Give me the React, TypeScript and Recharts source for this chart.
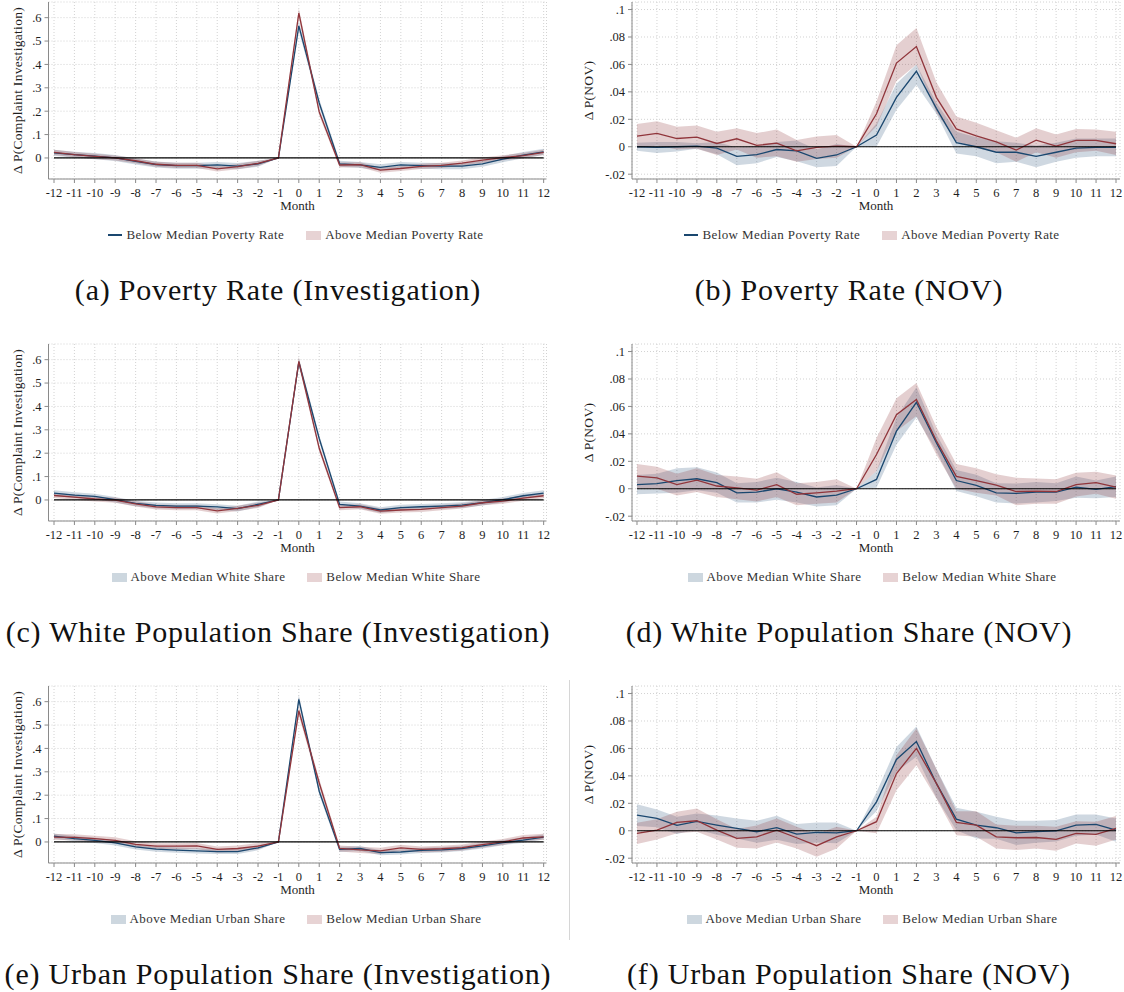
import React from 'react';
import { ComposedChart, Area, Line, XAxis, YAxis, CartesianGrid, ReferenceLine } from 'recharts';

const MONTHS = [-12, -11, -10, -9, -8, -7, -6, -5, -4, -3, -2, -1, 0, 1, 2, 3, 4, 5, 6, 7, 8, 9, 10, 11, 12];
const INV_TICKS = [0, 0.1, 0.2, 0.3, 0.4, 0.5, 0.6];
const NOV_TICKS = [-0.02, 0, 0.02, 0.04, 0.06, 0.08, 0.1];

// (a) poverty rate, investigation
const aBluePt = [0.022, 0.014, 0.008, 0.0, -0.015, -0.028, -0.033, -0.033, -0.030, -0.035, -0.025, 0, 0.565, 0.235, -0.025, -0.030, -0.040, -0.030, -0.033, -0.035, -0.035, -0.025, -0.005, 0.012, 0.026];
const aBlueLo = [0.009, 0.001, -0.005, -0.013, -0.028, -0.041, -0.046, -0.046, -0.043, -0.048, -0.038, 0, 0.545, 0.218, -0.038, -0.043, -0.053, -0.043, -0.046, -0.048, -0.048, -0.038, -0.018, -0.001, 0.013];
const aBlueHi = [0.035, 0.027, 0.021, 0.013, -0.002, -0.015, -0.020, -0.020, -0.017, -0.022, -0.012, 0, 0.585, 0.252, -0.012, -0.017, -0.027, -0.017, -0.020, -0.022, -0.022, -0.012, 0.008, 0.025, 0.039];
const aRedPt = [0.024, 0.014, 0.007, 0.0, -0.012, -0.027, -0.032, -0.032, -0.047, -0.037, -0.023, 0, 0.620, 0.197, -0.030, -0.029, -0.052, -0.045, -0.036, -0.032, -0.022, -0.009, 0.001, 0.010, 0.024];
const aRedLo = [0.013, 0.003, -0.004, -0.011, -0.023, -0.038, -0.043, -0.043, -0.058, -0.048, -0.034, 0, 0.600, 0.182, -0.041, -0.040, -0.063, -0.056, -0.047, -0.043, -0.033, -0.020, -0.010, -0.001, 0.013];
const aRedHi = [0.035, 0.025, 0.018, 0.011, -0.001, -0.016, -0.021, -0.021, -0.036, -0.026, -0.012, 0, 0.640, 0.212, -0.019, -0.018, -0.041, -0.034, -0.025, -0.021, -0.011, 0.002, 0.012, 0.021, 0.035];

// (b) poverty rate, NOV
const bBluePt = [0.0, -0.0005, 0.0, 0.0005, -0.001, -0.007, -0.0058, -0.002, -0.003, -0.0085, -0.006, 0, 0.0085, 0.036, 0.055, 0.028, 0.003, 0.0, -0.004, -0.004, -0.007, -0.004, -0.001, -0.0005, -0.0005];
const bBlueLo = [-0.003, -0.0045, -0.0035, -0.0015, -0.0055, -0.0135, -0.012, -0.0075, -0.0105, -0.015, -0.014, 0, 0.0, 0.027, 0.045, 0.024, -0.005, -0.007, -0.012, -0.011, -0.015, -0.011, -0.008, -0.007, -0.007];
const bBlueHi = [0.003, 0.0035, 0.0035, 0.0025, 0.0035, -0.0005, 0.0005, 0.0035, 0.0045, -0.002, 0.002, 0, 0.017, 0.046, 0.060, 0.032, 0.011, 0.007, 0.004, 0.003, 0.001, 0.003, 0.006, 0.006, 0.006];
const bRedPt = [0.0078, 0.0097, 0.006, 0.007, 0.0024, 0.0058, 0.001, 0.0027, -0.003, -0.0005, 0.0005, 0, 0.024, 0.061, 0.073, 0.036, 0.013, 0.008, 0.0036, -0.0024, 0.0048, 0.0005, 0.0046, 0.0046, 0.0022];
const bRedLo = [-0.001, 0.001, -0.002, -0.0015, -0.006, -0.002, -0.008, -0.007, -0.011, -0.009, -0.008, 0, 0.015, 0.048, 0.060, 0.025, 0.004, -0.001, -0.004, -0.011, -0.004, -0.008, -0.004, -0.003, -0.006];
const bRedHi = [0.0165, 0.0185, 0.0145, 0.0155, 0.011, 0.0135, 0.010, 0.0125, 0.005, 0.0075, 0.0085, 0, 0.033, 0.074, 0.0865, 0.047, 0.022, 0.0175, 0.012, 0.0065, 0.0135, 0.009, 0.013, 0.0125, 0.011];

// (c) white population share, investigation
const cBluePt = [0.029, 0.021, 0.015, 0.001, -0.015, -0.023, -0.026, -0.026, -0.030, -0.037, -0.019, 0, 0.590, 0.263, -0.019, -0.026, -0.043, -0.033, -0.029, -0.026, -0.022, -0.012, 0.001, 0.018, 0.029];
const cBlueLo = [0.017, 0.009, 0.003, -0.011, -0.027, -0.035, -0.038, -0.038, -0.042, -0.049, -0.031, 0, 0.572, 0.248, -0.031, -0.038, -0.055, -0.045, -0.041, -0.038, -0.034, -0.024, -0.011, 0.006, 0.017];
const cBlueHi = [0.041, 0.033, 0.027, 0.013, -0.003, -0.011, -0.014, -0.014, -0.018, -0.025, -0.007, 0, 0.608, 0.278, -0.007, -0.014, -0.031, -0.021, -0.017, -0.014, -0.010, 0.000, 0.013, 0.030, 0.041];
const cRedPt = [0.019, 0.012, 0.004, -0.001, -0.017, -0.030, -0.033, -0.033, -0.047, -0.036, -0.023, 0, 0.593, 0.221, -0.033, -0.029, -0.048, -0.043, -0.040, -0.033, -0.026, -0.012, -0.005, 0.008, 0.018];
const cRedLo = [0.008, 0.001, -0.007, -0.012, -0.028, -0.041, -0.044, -0.044, -0.058, -0.047, -0.034, 0, 0.575, 0.206, -0.044, -0.040, -0.059, -0.054, -0.051, -0.044, -0.037, -0.023, -0.016, -0.003, 0.007];
const cRedHi = [0.030, 0.023, 0.015, 0.010, -0.006, -0.019, -0.022, -0.022, -0.036, -0.025, -0.012, 0, 0.611, 0.236, -0.022, -0.018, -0.037, -0.032, -0.029, -0.022, -0.015, -0.001, 0.006, 0.019, 0.029];

// (d) white population share, NOV
const dBluePt = [0.003, 0.0037, 0.006, 0.0073, 0.0044, -0.003, -0.0025, 0.0, -0.0025, -0.006, -0.0046, 0, 0.0068, 0.042, 0.063, 0.0336, 0.006, 0.0024, -0.003, -0.0034, -0.0025, -0.0025, 0.0012, -0.0005, 0.0015];
const dBlueLo = [-0.004, -0.0035, -0.003, -0.001, -0.003, -0.010, -0.010, -0.008, -0.010, -0.013, -0.012, 0, 0.0007, 0.032, 0.052, 0.0275, -0.0017, -0.0054, -0.010, -0.0107, -0.010, -0.009, -0.0066, -0.007, -0.006];
const dBlueHi = [0.010, 0.011, 0.015, 0.0156, 0.0118, 0.004, 0.005, 0.008, 0.005, 0.001, 0.0028, 0, 0.0129, 0.052, 0.074, 0.0397, 0.0137, 0.0102, 0.004, 0.0039, 0.005, 0.004, 0.009, 0.006, 0.009];
const dRedPt = [0.0092, 0.008, 0.003, 0.0063, 0.002, 0.0007, -0.001, 0.003, -0.004, -0.003, -0.0017, 0, 0.025, 0.054, 0.065, 0.035, 0.009, 0.006, 0.0027, -0.002, -0.0017, -0.002, 0.003, 0.0044, 0.0012];
const dRedLo = [0.0004, 0.0, -0.005, -0.0024, -0.006, -0.0076, -0.0093, -0.006, -0.012, -0.011, -0.010, 0, 0.013, 0.042, 0.053, 0.025, 0.0, -0.003, -0.005, -0.012, -0.011, -0.011, -0.0057, -0.0036, -0.0073];
const dRedHi = [0.018, 0.016, 0.011, 0.015, 0.010, 0.009, 0.0073, 0.012, 0.004, 0.005, 0.007, 0, 0.037, 0.066, 0.077, 0.045, 0.018, 0.015, 0.0105, 0.008, 0.0075, 0.007, 0.0117, 0.0124, 0.0097];

// (e) urban population share, investigation
const eBluePt = [0.025, 0.014, 0.007, -0.004, -0.021, -0.031, -0.035, -0.038, -0.041, -0.041, -0.025, 0, 0.610, 0.217, -0.032, -0.028, -0.046, -0.043, -0.036, -0.034, -0.028, -0.017, -0.003, 0.008, 0.021];
const eBlueLo = [0.014, 0.003, -0.004, -0.015, -0.032, -0.042, -0.046, -0.049, -0.052, -0.052, -0.036, 0, 0.592, 0.202, -0.043, -0.039, -0.057, -0.054, -0.047, -0.045, -0.039, -0.028, -0.014, -0.003, 0.010];
const eBlueHi = [0.036, 0.025, 0.018, 0.007, -0.010, -0.020, -0.024, -0.027, -0.030, -0.030, -0.014, 0, 0.628, 0.232, -0.021, -0.017, -0.035, -0.032, -0.025, -0.023, -0.017, -0.006, 0.008, 0.019, 0.032];
const eRedPt = [0.021, 0.020, 0.014, 0.007, -0.010, -0.018, -0.018, -0.017, -0.032, -0.028, -0.018, 0, 0.561, 0.252, -0.028, -0.034, -0.038, -0.025, -0.032, -0.029, -0.024, -0.011, 0.000, 0.017, 0.022];
const eRedLo = [0.008, 0.007, 0.001, -0.006, -0.023, -0.031, -0.031, -0.030, -0.045, -0.041, -0.031, 0, 0.541, 0.235, -0.041, -0.047, -0.051, -0.038, -0.045, -0.042, -0.037, -0.024, -0.013, 0.004, 0.009];
const eRedHi = [0.034, 0.033, 0.027, 0.020, 0.003, -0.005, -0.005, -0.004, -0.019, -0.015, -0.005, 0, 0.581, 0.269, -0.015, -0.021, -0.025, -0.012, -0.019, -0.016, -0.011, 0.002, 0.013, 0.030, 0.035];

// (f) urban population share, NOV
const fBluePt = [0.0114, 0.009, 0.0039, 0.0068, 0.0041, 0.0017, -0.0007, 0.0022, -0.0024, -0.0012, -0.0015, 0, 0.0211, 0.052, 0.065, 0.0345, 0.0085, 0.0041, 0.0022, -0.0015, -0.0007, 0.0, 0.0041, 0.0046, 0.0005];
const fBlueLo = [0.0034, 0.0025, -0.0024, 0.001, -0.003, -0.0056, -0.0087, -0.0066, -0.0097, -0.0085, -0.0091, 0, 0.0142, 0.043, 0.054, 0.024, 0.0003, -0.0056, -0.0058, -0.0103, -0.0087, -0.0078, -0.0037, -0.0027, -0.008];
const fBlueHi = [0.0194, 0.0155, 0.0102, 0.0126, 0.0112, 0.009, 0.0073, 0.011, 0.0049, 0.0061, 0.0061, 0, 0.028, 0.061, 0.076, 0.045, 0.0167, 0.0138, 0.0102, 0.0073, 0.0073, 0.0078, 0.0119, 0.0119, 0.009];
const fRedPt = [-0.0019, 0.0005, 0.0061, 0.0073, 0.0005, -0.0056, -0.0044, 0.0005, -0.0051, -0.0109, -0.0044, 0, 0.0066, 0.0417, 0.060, 0.0345, 0.0061, 0.0041, -0.0044, -0.0051, -0.0049, -0.0063, -0.0019, -0.0027, 0.0017];
const fRedLo = [-0.0097, -0.0063, -0.0019, -0.0007, -0.0063, -0.0124, -0.0129, -0.0085, -0.0129, -0.019, -0.0129, 0, -0.0019, 0.0296, 0.0478, 0.0235, -0.0032, -0.0044, -0.0129, -0.0141, -0.0129, -0.0146, -0.0092, -0.0109, -0.0063];
const fRedHi = [0.0058, 0.0083, 0.0138, 0.0163, 0.0083, 0.0012, 0.0039, 0.009, 0.0029, -0.0024, 0.0029, 0, 0.0102, 0.055, 0.0745, 0.045, 0.0143, 0.0143, 0.0046, 0.0036, 0.0036, 0.0029, 0.007, 0.0066, 0.0107];

const BLUE = '#1a476f';
const RED = '#90353b';
const AXIS = '#8a8a8a';
const GRID = '#d2d2d2';
const TEXT = '#1e1e1e';
const FONT = '"Liberation Serif", "Times New Roman", serif';

const buildRows = (bPt: number[], bLo: number[], bHi: number[], rPt: number[], rLo: number[], rHi: number[]) =>
  MONTHS.map((m, i) => ({ m, b: bPt[i], r: rPt[i], bBand: [bLo[i], bHi[i]], rBand: [rLo[i], rHi[i]] }));

const fmtTick = (v: number) => (v === 0 ? '0' : String(Number(v.toFixed(2))).replace('0.', '.'));

type LegendItem = { label: string; color: string; kind: 'line' | 'rect' };

type PanelProps = {
  rowY: number;
  side: 'left' | 'right';
  rows: any[];
  yLabel: string;
  legend: LegendItem[];
  caption: string;
};

const Panel = ({ rowY, side, rows, yLabel, legend, caption }: PanelProps) => {
  const isLeft = side === 'left';
  const boxLeft = isLeft ? 0 : 565;
  const boxWidth = isLeft ? 560 : 559;
  const yAxisWidth = isLeft ? 40 : 50;
  const margin = isLeft
    ? { top: 2, right: 13.5, bottom: 3, left: 8.5 }
    : { top: 2, right: 4, bottom: 3, left: 17 };
  const xDomain: [number, number] = isLeft ? [-12.27, 12.14] : [-12.25, 12.2];
  const yDomain: [number, number] = isLeft ? [-0.09, 0.667] : [-0.0235, 0.1055];
  const ticks = isLeft ? INV_TICKS : NOV_TICKS;
  const legendCenter = isLeft ? 296 : 872;
  const captionCenter = isLeft ? 278 : 849;

  return (
    <>
      <div style={{ position: 'absolute', left: boxLeft, top: rowY }}>
        <ComposedChart width={boxWidth} height={215} data={rows} margin={margin}>
          <CartesianGrid stroke={GRID} strokeDasharray="1 2" />
          <XAxis
            type="number"
            dataKey="m"
            domain={xDomain}
            ticks={MONTHS}
            interval={0}
            allowDataOverflow
            height={33}
            tickSize={4}
            tickMargin={5}
            stroke={AXIS}
            tick={{ fontSize: 12.5, fill: TEXT, fontFamily: FONT }}
            label={{ value: 'Month', position: 'insideBottom', offset: 2, style: { fontSize: 13, fill: TEXT, fontFamily: FONT } }}
          />
          <YAxis
            type="number"
            domain={yDomain}
            ticks={ticks}
            interval={0}
            allowDataOverflow
            width={yAxisWidth}
            tickSize={4}
            tickMargin={3}
            stroke={AXIS}
            tickFormatter={fmtTick}
            tick={{ fontSize: 12.5, fill: TEXT, fontFamily: FONT }}
            label={{
              value: yLabel,
              angle: -90,
              position: 'insideLeft',
              offset: isLeft ? 8.5 : 6,
              style: { textAnchor: 'middle', fontSize: 13.5, fill: TEXT, fontFamily: FONT, letterSpacing: 0.3 },
            }}
          />
          <Area type="linear" dataKey="bBand" stroke="none" fill={BLUE} fillOpacity={0.21} isAnimationActive={false} />
          <Area type="linear" dataKey="rBand" stroke="none" fill={RED} fillOpacity={0.24} isAnimationActive={false} />
          <Line type="linear" dataKey="b" stroke={BLUE} strokeWidth={1.3} dot={false} isAnimationActive={false} />
          <Line type="linear" dataKey="r" stroke={RED} strokeWidth={1.3} dot={false} isAnimationActive={false} />
          <ReferenceLine segment={[{ x: -12, y: 0 }, { x: 12, y: 0 }]} stroke="#000" strokeWidth={1.2} />
        </ComposedChart>
      </div>
      <div
        style={{
          position: 'absolute',
          left: legendCenter - 250,
          width: 500,
          top: rowY + 226,
          height: 18,
          display: 'flex',
          justifyContent: 'center',
          alignItems: 'center',
          gap: 22,
          fontFamily: FONT,
          fontSize: 13,
          letterSpacing: 0.4,
          color: '#333',
        }}
      >
        {legend.map((it) => (
          <div key={it.label} style={{ display: 'flex', alignItems: 'center', gap: 4 }}>
            {it.kind === 'line' ? (
              <span style={{ display: 'inline-block', width: 14, height: 1.5, background: it.color }} />
            ) : (
              <span style={{ display: 'inline-block', width: 15, height: 9, background: it.color, opacity: 0.22 }} />
            )}
            <span>{it.label}</span>
          </div>
        ))}
      </div>
      <div
        style={{
          position: 'absolute',
          left: captionCenter - 280,
          width: 560,
          top: rowY + 273,
          lineHeight: '34px',
          textAlign: 'center',
          fontFamily: FONT,
          fontSize: 30,
          letterSpacing: 0.8,
          color: '#111',
          whiteSpace: 'nowrap',
        }}
      >
        {caption}
      </div>
    </>
  );
};

const INV_LABEL = 'Δ P(Complaint Investigation)';
const NOV_LABEL = 'Δ P(NOV)';

export default function App() {
  const povLegend: LegendItem[] = [
    { label: 'Below Median Poverty Rate', color: BLUE, kind: 'line' },
    { label: 'Above Median Poverty Rate', color: RED, kind: 'rect' },
  ];
  const whiteLegend: LegendItem[] = [
    { label: 'Above Median White Share', color: BLUE, kind: 'rect' },
    { label: 'Below Median White Share', color: RED, kind: 'rect' },
  ];
  const urbanLegend: LegendItem[] = [
    { label: 'Above Median Urban Share', color: BLUE, kind: 'rect' },
    { label: 'Below Median Urban Share', color: RED, kind: 'rect' },
  ];

  return (
    <div style={{ position: 'absolute', left: 0, top: 0, width: 1124, height: 992, background: '#fff', overflow: 'hidden' }}>
      <Panel rowY={0} side="left" rows={buildRows(aBluePt, aBlueLo, aBlueHi, aRedPt, aRedLo, aRedHi)} yLabel={INV_LABEL} legend={povLegend} caption="(a) Poverty Rate (Investigation)" />
      <Panel rowY={0} side="right" rows={buildRows(bBluePt, bBlueLo, bBlueHi, bRedPt, bRedLo, bRedHi)} yLabel={NOV_LABEL} legend={povLegend} caption="(b) Poverty Rate (NOV)" />
      <Panel rowY={342} side="left" rows={buildRows(cBluePt, cBlueLo, cBlueHi, cRedPt, cRedLo, cRedHi)} yLabel={INV_LABEL} legend={whiteLegend} caption="(c) White Population Share (Investigation)" />
      <Panel rowY={342} side="right" rows={buildRows(dBluePt, dBlueLo, dBlueHi, dRedPt, dRedLo, dRedHi)} yLabel={NOV_LABEL} legend={whiteLegend} caption="(d) White Population Share (NOV)" />
      <Panel rowY={684} side="left" rows={buildRows(eBluePt, eBlueLo, eBlueHi, eRedPt, eRedLo, eRedHi)} yLabel={INV_LABEL} legend={urbanLegend} caption="(e) Urban Population Share (Investigation)" />
      <Panel rowY={684} side="right" rows={buildRows(fBluePt, fBlueLo, fBlueHi, fRedPt, fRedLo, fRedHi)} yLabel={NOV_LABEL} legend={urbanLegend} caption="(f) Urban Population Share (NOV)" />
      <div style={{ position: 'absolute', left: 569, top: 680, width: 1, height: 260, background: '#d6d6d6' }} />
    </div>
  );
}
